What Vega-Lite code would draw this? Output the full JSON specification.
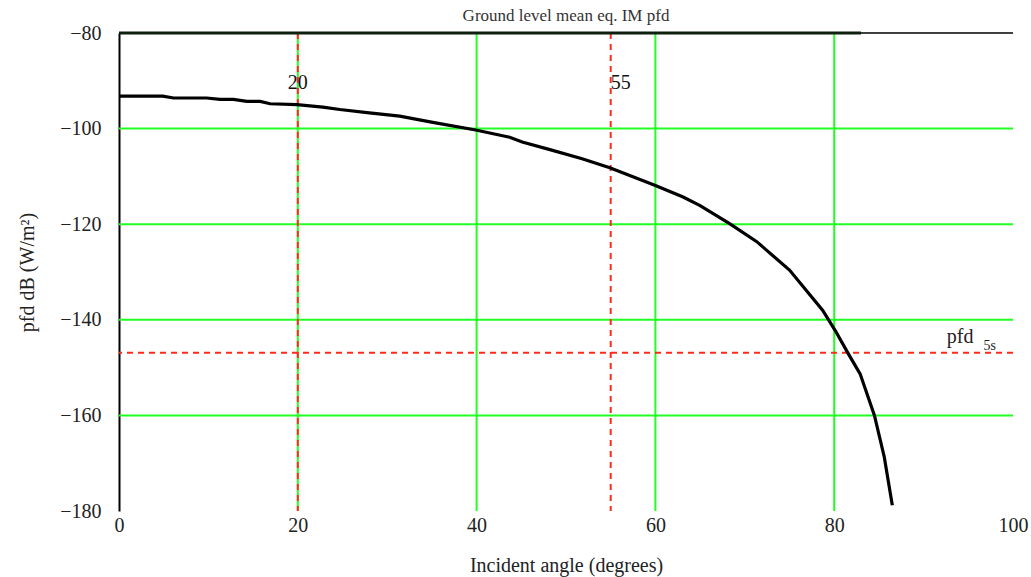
{
  "$schema": "https://vega.github.io/schema/vega-lite/v6.json",
  "width": 894,
  "height": 478,
  "autosize": "none",
  "padding": {"left": 119, "top": 33, "right": 18, "bottom": 66},
  "background": "white",
  "config": {
    "view": {"stroke": null},
    "font": "Liberation Serif",
    "title": {"font": "Liberation Serif", "fontWeight": "normal"}
  },
  "title": {
    "text": "Ground level mean eq. IM pfd",
    "fontSize": 17,
    "color": "#333333",
    "anchor": "middle",
    "baseline": "bottom",
    "offset": -5,
    "dy": 14
  },
  "datasets": {
    "curve": [
      {"angle": 0, "pfd": -93.2},
      {"angle": 4.9, "pfd": -93.2},
      {"angle": 6.1, "pfd": -93.6},
      {"angle": 9.8, "pfd": -93.6},
      {"angle": 11.3, "pfd": -93.9},
      {"angle": 12.8, "pfd": -93.9},
      {"angle": 14.3, "pfd": -94.3},
      {"angle": 15.8, "pfd": -94.3},
      {"angle": 16.9, "pfd": -94.8},
      {"angle": 19.9, "pfd": -95.0},
      {"angle": 22.8, "pfd": -95.5},
      {"angle": 24.7, "pfd": -96.0},
      {"angle": 28.0, "pfd": -96.7},
      {"angle": 31.4, "pfd": -97.4},
      {"angle": 35.1, "pfd": -98.7},
      {"angle": 39.9, "pfd": -100.3},
      {"angle": 43.7, "pfd": -101.8},
      {"angle": 45.1, "pfd": -102.8},
      {"angle": 48.2, "pfd": -104.4},
      {"angle": 51.8, "pfd": -106.3},
      {"angle": 54.9, "pfd": -108.2},
      {"angle": 60.0, "pfd": -111.9},
      {"angle": 63.1, "pfd": -114.3},
      {"angle": 65.0, "pfd": -116.1},
      {"angle": 68.3, "pfd": -119.9},
      {"angle": 71.3, "pfd": -123.6},
      {"angle": 75.0, "pfd": -129.6},
      {"angle": 78.7, "pfd": -138.0},
      {"angle": 80.1, "pfd": -142.2},
      {"angle": 81.7, "pfd": -147.5},
      {"angle": 82.9, "pfd": -151.3},
      {"angle": 84.5, "pfd": -160.0},
      {"angle": 85.6, "pfd": -168.7},
      {"angle": 86.5, "pfd": -178.8}
    ],
    "hgrid": [{"pfd": -100}, {"pfd": -120}, {"pfd": -140}, {"pfd": -160}],
    "vgrid": [{"angle": 20}, {"angle": 40}, {"angle": 60}, {"angle": 80}],
    "vmark": [{"angle": 20}, {"angle": 55}],
    "hmark": [{"pfd": -146.9}],
    "topline": [{"start": 0, "end": 83, "pfd": -80}],
    "toplineFull": [{"pfd": -80}],
    "label20": [{"angle": 20, "pfd": -90.4, "label": "20"}],
    "label55": [{"angle": 55, "pfd": -90.4, "label": "55"}],
    "pfdLabel": [{"angle": 92.6, "pfd": -144.9, "label": "pfd"}],
    "subLabel": [{"angle": 96.7, "pfd": -146.4, "label": "5s"}]
  },
  "layer": [
    {
      "data": {"name": "hgrid"},
      "mark": {"type": "rule", "color": "#22ff22", "strokeWidth": 2},
      "encoding": {
        "y": {
          "field": "pfd",
          "type": "quantitative",
          "scale": {"domain": [-180, -80], "nice": false, "zero": false},
          "axis": {
            "title": "pfd dB (W/m²)",
            "titleFontSize": 20,
            "titleFontWeight": "normal",
            "titleColor": "#222222",
            "titleAngle": -90,
            "titleX": -92,
            "titleY": 239,
            "titleAlign": "center",
            "titleBaseline": "middle",
            "values": [-180, -160, -140, -120, -100, -80],
            "labelFontSize": 20,
            "labelColor": "#222222",
            "labelPadding": 18,
            "labelFlush": false,
            "ticks": false,
            "grid": false,
            "domain": true,
            "domainColor": "#000000",
            "domainWidth": 2
          }
        }
      }
    },
    {
      "data": {"name": "vgrid"},
      "mark": {"type": "rule", "color": "#22ff22", "strokeWidth": 2},
      "encoding": {
        "x": {
          "field": "angle",
          "type": "quantitative",
          "scale": {"domain": [0, 100], "nice": false},
          "axis": {
            "title": "Incident angle (degrees)",
            "titleFontSize": 20,
            "titleFontWeight": "normal",
            "titleColor": "#222222",
            "titlePadding": 20,
            "values": [0, 20, 40, 60, 80, 100],
            "labelFontSize": 20,
            "labelColor": "#222222",
            "labelPadding": 4,
            "labelFlush": false,
            "ticks": false,
            "grid": false,
            "domain": false
          }
        }
      }
    },
    {
      "data": {"name": "vmark"},
      "mark": {"type": "rule", "color": "#ff2a1a", "strokeWidth": 2, "strokeDash": [6, 5]},
      "encoding": {"x": {"field": "angle", "type": "quantitative"}}
    },
    {
      "data": {"name": "hmark"},
      "mark": {"type": "rule", "color": "#ff2a1a", "strokeWidth": 2, "strokeDash": [6, 5]},
      "encoding": {"y": {"field": "pfd", "type": "quantitative"}}
    },
    {
      "data": {"name": "toplineFull"},
      "mark": {"type": "rule", "color": "#000000", "strokeWidth": 1.5},
      "encoding": {"y": {"field": "pfd", "type": "quantitative"}}
    },
    {
      "data": {"name": "topline"},
      "mark": {"type": "rule", "color": "#0d200d", "strokeWidth": 3},
      "encoding": {
        "x": {"field": "start", "type": "quantitative"},
        "x2": {"field": "end"},
        "y": {"field": "pfd", "type": "quantitative"}
      }
    },
    {
      "data": {"name": "curve"},
      "mark": {"type": "line", "color": "#000000", "strokeWidth": 3.2, "interpolate": "linear"},
      "encoding": {
        "x": {"field": "angle", "type": "quantitative"},
        "y": {"field": "pfd", "type": "quantitative"}
      }
    },
    {
      "data": {"name": "label20"},
      "mark": {"type": "text", "fontSize": 20, "color": "#111111", "align": "center", "baseline": "middle", "font": "Liberation Serif"},
      "encoding": {
        "x": {"field": "angle", "type": "quantitative"},
        "y": {"field": "pfd", "type": "quantitative"},
        "text": {"field": "label"}
      }
    },
    {
      "data": {"name": "label55"},
      "mark": {"type": "text", "fontSize": 20, "color": "#111111", "align": "left", "baseline": "middle", "font": "Liberation Serif"},
      "encoding": {
        "x": {"field": "angle", "type": "quantitative"},
        "y": {"field": "pfd", "type": "quantitative"},
        "text": {"field": "label"}
      }
    },
    {
      "data": {"name": "pfdLabel"},
      "mark": {"type": "text", "fontSize": 20, "color": "#222222", "align": "left", "baseline": "alphabetic", "font": "Liberation Serif"},
      "encoding": {
        "x": {"field": "angle", "type": "quantitative"},
        "y": {"field": "pfd", "type": "quantitative"},
        "text": {"field": "label"}
      }
    },
    {
      "data": {"name": "subLabel"},
      "mark": {"type": "text", "fontSize": 14, "color": "#222222", "align": "left", "baseline": "alphabetic", "font": "Liberation Serif"},
      "encoding": {
        "x": {"field": "angle", "type": "quantitative"},
        "y": {"field": "pfd", "type": "quantitative"},
        "text": {"field": "label"}
      }
    }
  ]
}
